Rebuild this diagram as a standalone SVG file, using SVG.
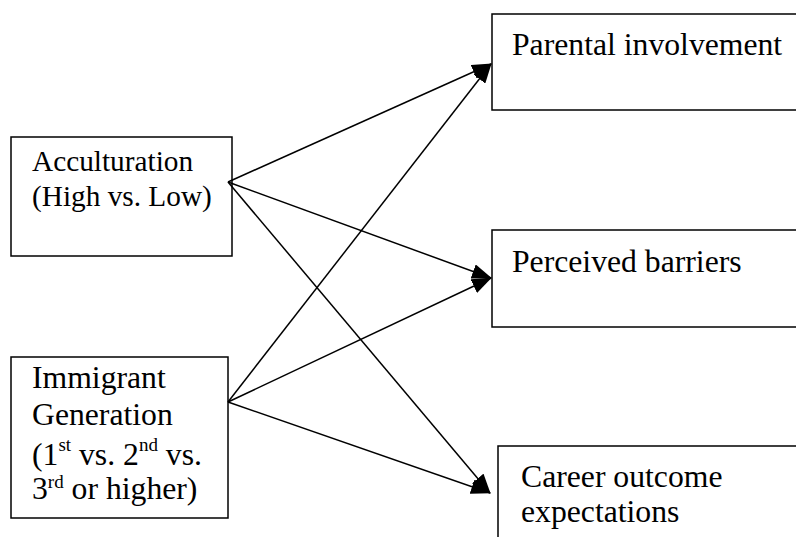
<svg xmlns="http://www.w3.org/2000/svg" width="796" height="537" viewBox="0 0 796 537">
<style>
.box{fill:#fff;stroke:#000;stroke-width:1.5}
.t{font-family:"Liberation Serif","Times New Roman",serif;fill:#000}
.c{stroke:#000;stroke-width:1.5;fill:none;marker-end:url(#ah)}
</style>
<defs>
<marker id="ah" markerWidth="20" markerHeight="15" refX="19" refY="7.5" orient="auto" markerUnits="userSpaceOnUse">
<path d="M0,0 L20,7.5 L0,15 Z" fill="#000"/>
</marker>
</defs>
<rect width="796" height="537" fill="#fff"/>
<g id="acculturation">
<rect class="box" x="11" y="137" width="221" height="119"/>
<text class="t" font-family="Liberation Serif, serif" font-size="29.3" x="32" y="171">Acculturation</text>
<text class="t" font-family="Liberation Serif, serif" font-size="29.3" x="32" y="206">(High vs. Low)</text>
</g>
<g id="immigrant">
<rect class="box" x="11" y="357" width="217" height="161"/>
<text class="t" font-family="Liberation Serif, serif" font-size="31.7" x="32" y="388">Immigrant</text>
<text class="t" font-family="Liberation Serif, serif" font-size="31.7" x="32" y="425">Generation</text>
<text class="t" font-family="Liberation Serif, serif" font-size="31.7" x="32" y="465">(1<tspan font-size="19" dy="-14">st</tspan><tspan dy="14"> vs. 2</tspan><tspan font-size="19" dy="-14">nd</tspan><tspan dy="14"> vs.</tspan></text>
<text class="t" font-family="Liberation Serif, serif" font-size="31.7" x="32" y="499">3<tspan font-size="19" dy="-11">rd</tspan><tspan dy="11"> or higher)</tspan></text>
</g>
<g id="parental">
<rect class="box" x="492" y="14" width="310" height="96"/>
<text class="t" font-family="Liberation Serif, serif" font-size="31.7" x="512" y="55">Parental involvement</text>
</g>
<g id="barriers">
<rect class="box" x="492" y="230" width="310" height="97"/>
<text class="t" font-family="Liberation Serif, serif" font-size="31.7" x="512" y="272">Perceived barriers</text>
</g>
<g id="career">
<rect class="box" x="498" y="446" width="310" height="100"/>
<text class="t" font-family="Liberation Serif, serif" font-size="31.7" x="521" y="487">Career outcome</text>
<text class="t" font-family="Liberation Serif, serif" font-size="31.7" x="521" y="522">expectations</text>
</g>
<g id="connectors">
<line class="c" x1="228" y1="182" x2="491" y2="64"/>
<line class="c" x1="228" y1="182" x2="491" y2="278"/>
<line class="c" x1="228" y1="182" x2="490" y2="493"/>
<line class="c" x1="228" y1="402" x2="491" y2="64"/>
<line class="c" x1="228" y1="402" x2="491" y2="278"/>
<line class="c" x1="228" y1="402" x2="490" y2="493"/>
</g>
</svg>
